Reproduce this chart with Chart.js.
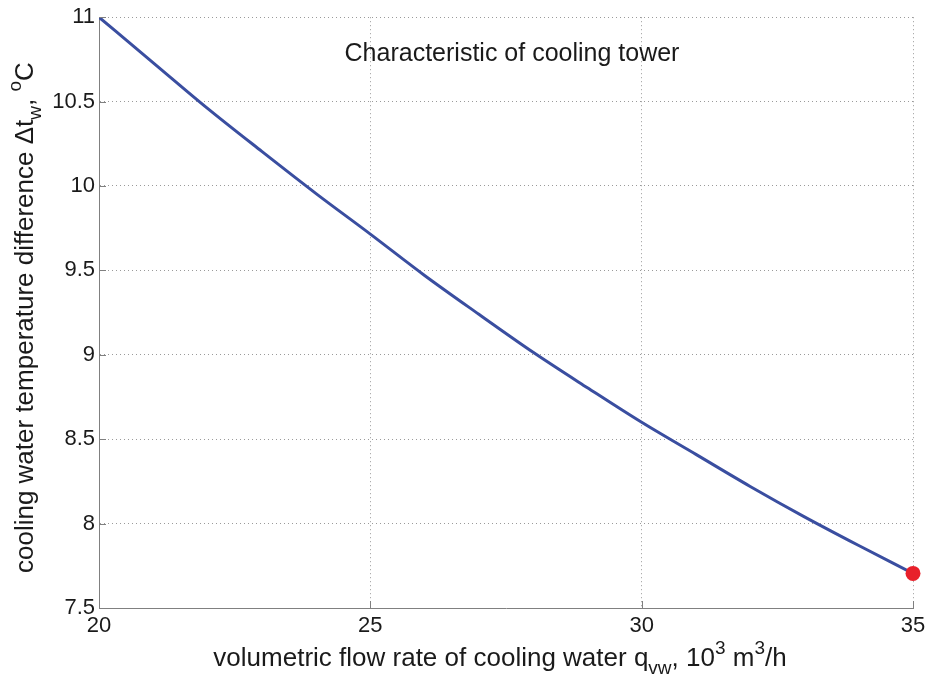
<!DOCTYPE html>
<html>
<head>
<meta charset="utf-8">
<script src="https://cdn.jsdelivr.net/npm/chart.js@4"></script>
<style>
  html, body { margin: 0; padding: 0; background: #fff; }
  #wrap { width: 931px; height: 681px; }
</style>
</head>
<body>
<div id="wrap"><canvas id="tower" width="931" height="681"></canvas></div>
<script>
// cooling tower characteristic
const flowRate = [20, 21, 22, 23, 24, 25, 26, 27, 28, 29, 30, 31, 32, 33, 34, 35];
const tempDiff = [11.0, 10.73, 10.46, 10.205, 9.955, 9.715, 9.47, 9.24, 9.015, 8.805, 8.6, 8.41, 8.22, 8.04, 7.87, 7.705];
// operating point (red marker)
const opFlow = [35];
const opTemp = [7.705];
const xTickValues = [20, 25, 30, 35];
const xTickLabels = ['20', '25', '30', '35'];
const yTickValues = [7.5, 8, 8.5, 9, 9.5, 10, 10.5, 11];
const yTickLabels = ['7.5', '8', '8.5', '9', '9.5', '10', '10.5', '11'];

const FONT = "'Liberation Sans', Arial, sans-serif";

// draws text with sub/superscript parts, rich = [[text, 'sub'|'sup'|''], ...]
function drawRich(ctx, rich, x, y, size) {
  const small = Math.round(size * 0.72);
  let total = 0;
  rich.forEach(([t, m]) => {
    ctx.font = (m ? small : size) + 'px ' + FONT;
    total += ctx.measureText(t).width;
  });
  let cx = x - total / 2;
  rich.forEach(([t, m]) => {
    ctx.font = (m ? small : size) + 'px ' + FONT;
    let dy = 0;
    if (m === 'sub') dy = size * 0.32;
    if (m === 'sup') dy = -size * 0.45;
    ctx.fillText(t, cx, y + dy);
    cx += ctx.measureText(t).width;
  });
}

const labelsPlugin = {
  id: 'labels',
  afterDraw(chart) {
    const ctx = chart.ctx;
    const a = chart.chartArea;
    const xs = chart.scales.x, ys = chart.scales.y;
    ctx.save();
    ctx.fillStyle = '#1a1a1a';
    ctx.textBaseline = 'alphabetic';
    ctx.textAlign = 'left';

    // small inward ticks like matlab
    ctx.strokeStyle = '#808080';
    ctx.lineWidth = 1;
    ctx.beginPath();
    xTickValues.forEach(v => {
      const px = Math.round(xs.getPixelForValue(v)) + 0.5;
      ctx.moveTo(px, a.bottom); ctx.lineTo(px, a.bottom - 7);
    });
    yTickValues.forEach(v => {
      const py = Math.round(ys.getPixelForValue(v)) + 0.5;
      ctx.moveTo(a.left, py); ctx.lineTo(a.left + 7, py);
    });
    ctx.stroke();

    // title inside the axes
    drawRich(ctx, [['Characteristic of cooling tower', '']], (a.left + a.right) / 2 + 6, a.top + 44, 25);

    // x axis title
    drawRich(ctx, [
      ['volumetric flow rate of cooling water q', ''], ['vw', 'sub'], [', 10', ''],
      ['3', 'sup'], [' m', ''], ['3', 'sup'], ['/h', '']
    ], (a.left + a.right) / 2 - 6, a.bottom + 58, 26);

    // y axis title, rotated
    ctx.translate(33, (a.top + a.bottom) / 2 + 5);
    ctx.rotate(-Math.PI / 2);
    drawRich(ctx, [
      ['cooling water temperature difference \u0394t', ''], ['w', 'sub'], [', ', ''],
      ['o', 'sup'], ['C', '']
    ], 0, 0, 26);
    ctx.restore();
  }
};

new Chart(document.getElementById('tower'), {
  type: 'scatter',
  data: {
    datasets: [
      {
        label: 'characteristic',
        data: flowRate.map((q, i) => ({ x: q, y: tempDiff[i] })),
        showLine: true,
        borderColor: '#3a4ea0',
        borderWidth: 3,
        pointRadius: 0,
        cubicInterpolationMode: 'monotone',
        order: 2
      },
      {
        label: 'operating point',
        data: opFlow.map((q, i) => ({ x: q, y: opTemp[i] })),
        pointRadius: 7.5,
        pointBackgroundColor: '#e8202a',
        pointBorderWidth: 0,
        clip: false,
        order: 1
      }
    ]
  },
  options: {
    responsive: false,
    animation: false,
    events: [],
    layout: { padding: { left: 0, right: 18, top: 17, bottom: 0 } },
    plugins: { legend: { display: false }, tooltip: { enabled: false } },
    scales: {
      x: {
        type: 'linear',
        min: 20, max: 35,
        afterFit(s) { s.height = 73; },
        afterBuildTicks(s) { s.ticks = xTickValues.map(v => ({ value: v })); },
        border: { color: '#808080', width: 1, dash: [1, 3] },
        grid: { color: '#9a9a9a', drawTicks: false },
        ticks: {
          padding: 5, color: '#1a1a1a', font: { family: FONT, size: 22 },
          callback: (v, i) => xTickLabels[i]
        }
      },
      y: {
        type: 'linear',
        min: 7.5, max: 11,
        afterFit(s) { s.width = 99; },
        afterBuildTicks(s) { s.ticks = yTickValues.map(v => ({ value: v })); },
        border: { color: '#808080', width: 1, dash: [1, 3] },
        grid: { color: '#9a9a9a', drawTicks: false },
        ticks: {
          padding: 4, color: '#1a1a1a', font: { family: FONT, size: 22 },
          callback: (v, i) => yTickLabels[i]
        }
      }
    }
  },
  plugins: [labelsPlugin]
});
</script>
</body>
</html>
